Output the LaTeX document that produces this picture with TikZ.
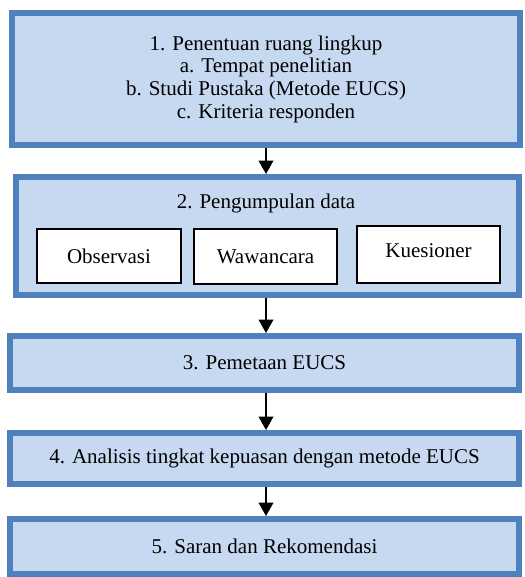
\documentclass[tikz,border=0pt]{standalone}
\usepackage{fontspec}
\usepackage{tikz}
\usetikzlibrary{shapes,arrows.meta}
\setmainfont{Liberation Serif}
\newfontfamily\timesfont{Liberation Serif}
\definecolor{boxfill}{HTML}{C6D9F1}
\definecolor{boxline}{HTML}{4F81BD}
\tikzstyle{block} = [draw=boxline, line width=4.5pt, fill=boxfill, inner sep=0pt, align=center]
\tikzstyle{sub} = [draw=black, line width=1.2pt, fill=white, inner sep=0pt]
\tikzstyle{line} = [draw, line width=1.1pt, -{Triangle[width=11pt,length=10pt]}]

\begin{document}
\begin{tikzpicture}[x=0.75pt, y=-0.75pt, font=\timesfont\fontsize{15.75}{17}\selectfont]
	\useasboundingbox (0,0) rectangle (524,577);

	% nodes
	\node[block, minimum width=381pt, minimum height=99pt] (A) at (266, 79) {1. Penentuan ruang lingkup\\ a. Tempat penelitian\\ b. Studi Pustaka (Metode EUCS)\\ c. Kriteria responden};
	\node[block, minimum width=377.25pt, minimum height=88.5pt] (B) at (267.5, 236) {};
	\node (Bt) at (266, 203) {2. Pengumpulan data};
	\node[sub, minimum width=108pt, minimum height=40.5pt] (B1) at (109, 256) {Observasi};
	\node[sub, minimum width=107.25pt, minimum height=41.25pt] (B2) at (265.5, 256.5) {Wawancara};
	\node[sub, minimum width=107.25pt, minimum height=42.75pt, text depth=6pt] (B3) at (428.5, 254.5) {Kuesioner};
	\node[block, minimum width=381.75pt, minimum height=40.5pt] (C) at (264.5, 363) {3. Pemetaan EUCS};
	\node[block, minimum width=381.75pt, minimum height=38.25pt] (D) at (264.5, 458.5) {4. Analisis tingkat kepuasan dengan metode EUCS};
	\node[block, minimum width=381.75pt, minimum height=41.25pt] (E) at (264.5, 546.5) {5. Saran dan Rekomendasi};

	% arrows
	\draw [line] (A.south) -- (A.south |- B.north);
	\draw [line] (A.south |- B.south) -- (A.south |- C.north);
	\draw [line] (A.south |- C.south) -- (A.south |- D.north);
	\draw [line] (A.south |- D.south) -- (A.south |- E.north);

\end{tikzpicture}
\end{document}
